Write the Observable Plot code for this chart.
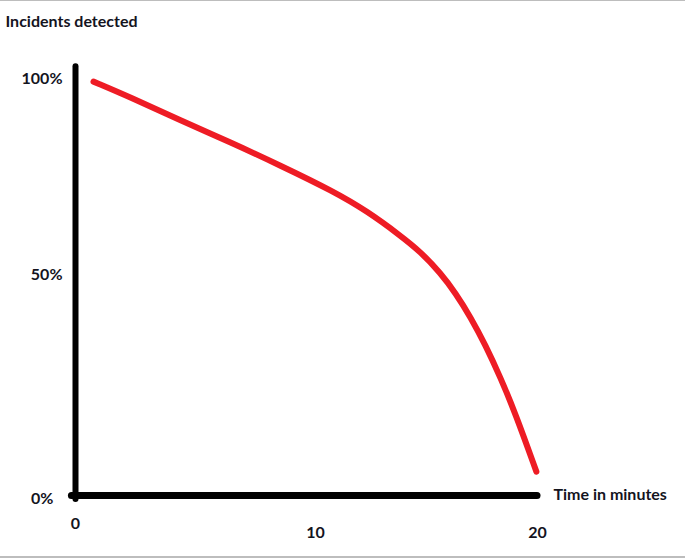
<!DOCTYPE html>
<html>
<head>
<meta charset="utf-8">
<script src="https://cdn.jsdelivr.net/npm/d3@7"></script>
<script src="https://cdn.jsdelivr.net/npm/@observablehq/plot@0.6"></script>
<style>
  html, body { margin: 0; padding: 0; background: #fff; }
  #frame { width: 685px; border-top: 1px solid #bdbdbd; border-bottom: 2px solid #bdbdbd; }
  svg { display: block; }
</style>
</head>
<body>
<div id="frame"></div>
<script>
// Data
const timeMinutes = [0.75, 2.29, 4.38, 6.46, 8.54, 10.81, 12.34, 13.83, 14.73, 15.63, 16.31, 16.98, 17.66, 18.33, 19.01, 19.95];
const detectedPct = [99.2, 95.2, 89.3, 83.7, 77.8, 71.2, 66.1, 59.9, 55.8, 50.4, 45.8, 40.4, 34.0, 26.7, 18.5, 5.4];

const xTickValues = [0, 10, 20];
const xTickLabels = ["0", "10", "20"];
const yTickValues = [0, 50, 100];
const yTickLabels = ["0%", "50%", "100%"];

const yAxisTitle = "Incidents detected";
const xAxisTitle = "Time in minutes";

const series = timeMinutes.map((t, i) => ({t, v: detectedPct[i]}));
const font = "Lato, 'Open Sans', sans-serif";
const ink = "#14141e";

const chart = Plot.plot({
  width: 685,
  height: 555,
  marginLeft: 0, marginTop: 0, marginRight: 0, marginBottom: 0,
  style: {fontFamily: font, background: "#fff", overflow: "visible"},
  x: {type: "linear", domain: [0, 10, 20], range: [75, 315, 537], axis: null},
  y: {type: "linear", domain: [0, 50, 100], range: [494, 273, 77], axis: null},
  marks: [
    // axis lines
    Plot.ruleY([0], {x1: -0.15, x2: 20.0, stroke: "#000", strokeWidth: 7, strokeLinecap: "round"}),
    Plot.ruleX([0], {y1: -0.9, y2: 103, stroke: "#000", strokeWidth: 6, strokeLinecap: "round"}),
    // curve
    Plot.line(series, {x: "t", y: "v", stroke: "#ee1c25", strokeWidth: 6, curve: "basis", strokeLinecap: "round", strokeLinejoin: "round"}),
    // y tick labels
    Plot.text([yTickValues[0]], {x: 0, y: d => d, text: () => yTickLabels[0], dx: -22, dy: 3, textAnchor: "end", fontSize: 16, fontWeight: "bold", fill: ink}),
    Plot.text(yTickValues.slice(1), {x: 0, y: d => d, text: (d, i) => yTickLabels[i + 1], dx: -13, textAnchor: "end", fontSize: 16, fontWeight: "bold", fill: ink}),
    // x tick labels
    Plot.text([xTickValues[0]], {x: d => d, y: 0, text: () => xTickLabels[0], dy: 28, fontSize: 16, fontWeight: "bold", fill: ink}),
    Plot.text(xTickValues.slice(1), {x: d => d, y: 0, text: (d, i) => xTickLabels[i + 1], dy: 37, fontSize: 16, fontWeight: "bold", fill: ink}),
    // axis titles
    Plot.text([xAxisTitle], {x: 20, y: 0, text: d => d, dx: 16, dy: -1, textAnchor: "start", fontSize: 16, fontWeight: "bold", fill: ink}),
    Plot.text([yAxisTitle], {frameAnchor: "top-left", text: d => d, dx: 5, dy: 20, lineAnchor: "middle", textAnchor: "start", fontSize: 16, fontWeight: "bold", fill: ink})
  ]
});
document.getElementById("frame").appendChild(chart);
</script>
</body>
</html>
